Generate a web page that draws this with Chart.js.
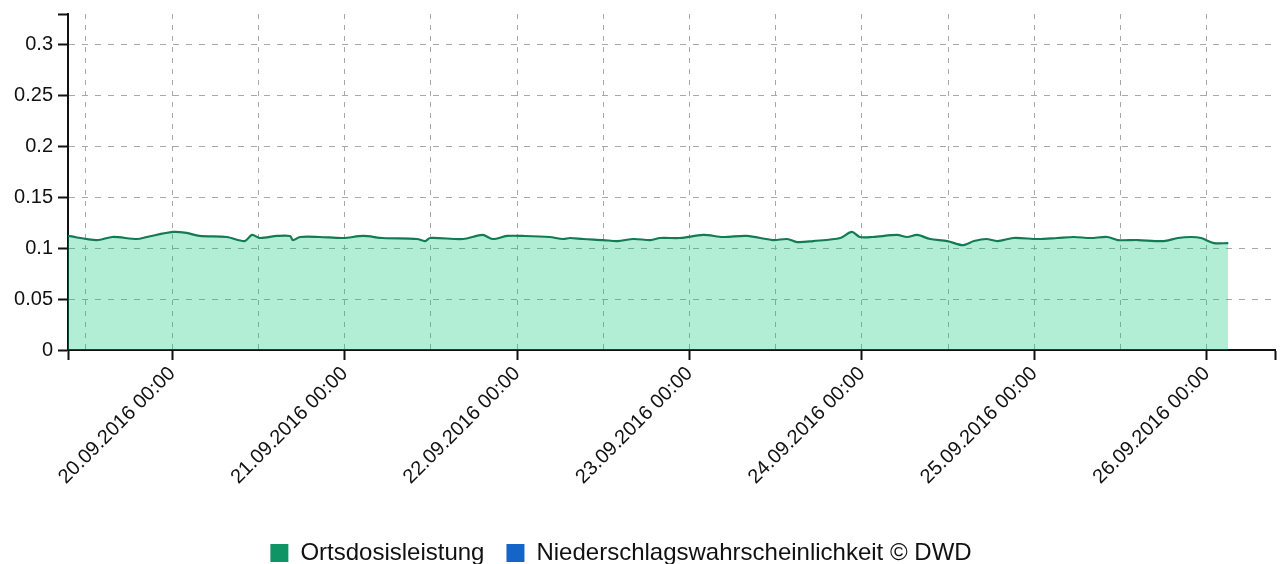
<!DOCTYPE html>
<html>
<head>
<meta charset="utf-8">
<script src="https://cdn.jsdelivr.net/npm/chart.js@4/dist/chart.umd.min.js"></script>
<style>
  html, body { margin: 0; padding: 0; background: #fff; }
  #wrap { width: 1284px; height: 564px; }
</style>
</head>
<body>
<div id="wrap"><canvas id="mychart"></canvas></div>
<script>
// hours counted from 19.09.2016 00:00
const hours = [9.5, 13.5, 15.7, 19.1, 20.5, 24.1, 26, 27.8, 31.6, 34.1, 35.1, 36.2, 38.6, 40.4, 40.8, 41.8, 44.5, 47.8,
  50.6, 53.3, 58.1, 59.2, 59.9, 64.5, 67.2, 68.6, 70.6, 72.8, 76.5, 78.4, 79.4, 81.2, 84, 86, 88.2, 90.6, 91.9, 94.7,
  97.9, 100.7, 104, 107.6, 109.6, 111, 113.2, 117, 118.6, 119.7, 121.5, 124.9, 126.3, 127.7, 129.5, 131.9, 134, 135.6,
  137.3, 138.9, 141.1, 144.5, 147.2, 149.5, 151.8, 154.2, 155.6, 158.4, 162, 164, 165.8, 167.2, 169, 171];
const dose = [0.112, 0.108, 0.111, 0.109, 0.111, 0.116, 0.115, 0.112, 0.111, 0.107, 0.113, 0.110, 0.112, 0.112, 0.108, 0.111, 0.111, 0.110,
  0.112, 0.110, 0.109, 0.107, 0.110, 0.109, 0.113, 0.109, 0.112, 0.112, 0.111, 0.109, 0.110, 0.109, 0.108, 0.107, 0.109, 0.108, 0.110, 0.110,
  0.113, 0.111, 0.112, 0.108, 0.109, 0.106, 0.107, 0.110, 0.116, 0.111, 0.111, 0.113, 0.111, 0.113, 0.109, 0.107, 0.103, 0.107,
  0.109, 0.107, 0.110, 0.109, 0.110, 0.111, 0.110, 0.111, 0.108, 0.108, 0.107, 0.110, 0.111, 0.110, 0.105, 0.105];
const rain = [];

const seriesNames = ['Ortsdosisleistung', 'Niederschlagswahrscheinlichkeit \u00a9 DWD'];
const legendColors = ['#0f9466', '#1565c8'];

const xMin = 9.5, xMax = 177.5;
const gridHours = [12, 24, 36, 48, 60, 72, 84, 96, 108, 120, 132, 144, 156, 168];
const dayHours = [24, 48, 72, 96, 120, 144, 168];
const dayLabels = ['20.09.2016 00:00', '21.09.2016 00:00', '22.09.2016 00:00', '23.09.2016 00:00',
  '24.09.2016 00:00', '25.09.2016 00:00', '26.09.2016 00:00'];
const yTicks = [0, 0.05, 0.1, 0.15, 0.2, 0.25, 0.3];
const yMax = 0.33;

const font = '"Liberation Sans", Arial, sans-serif';
const gridGrey = '#a8a8a8';

const ctx = document.getElementById('mychart');

var chart = new Chart(ctx, {
    type: 'line',
    data: {
        datasets: [{
            label: seriesNames[0],
            data: hours.map((h, i) => ({x: h, y: dose[i]})),
            borderColor: '#137a52',
            borderWidth: 2.2,
            backgroundColor: 'rgba(0, 200, 120, 0.3)',
            fill: 'origin',
            pointRadius: 0,
            tension: 0.3,
        }, {
            label: seriesNames[1],
            data: rain,
            borderColor: legendColors[1],
            backgroundColor: legendColors[1],
            pointRadius: 0,
        }],
    },
    options: {
        responsive: true,
        maintainAspectRatio: false,
        animation: false,
        layout: {
            padding: {left: -33, right: 9, top: 14, bottom: -11}
        },
        plugins: {
            tooltip: {enabled: false},
            legend: {
                position: 'bottom',
                labels: {
                    boxWidth: 18,
                    boxHeight: 18,
                    padding: 22,
                    color: '#111',
                    font: {family: font, size: 24},
                    generateLabels: (c) => Chart.defaults.plugins.legend.labels.generateLabels(c).map((l, i) => ({
                        ...l, fillStyle: legendColors[i], strokeStyle: legendColors[i], lineWidth: 0
                    })),
                }
            }
        },
        scales: {
            x: {
                type: 'linear',
                min: xMin,
                max: xMax,
                afterBuildTicks: (axis) => {
                    axis.ticks = [xMin, ...gridHours, xMax].map(v => ({value: v}));
                },
                afterFit: (axis) => {
                    axis.height = 169;
                    axis.paddingLeft = 0;
                    axis.paddingRight = 0;
                },
                grid: {
                    color: (c) => (c.tick && gridHours.includes(c.tick.value)) ? gridGrey : 'rgba(0,0,0,0)',
                    tickColor: (c) => (c.tick && (dayHours.includes(c.tick.value) || c.tick.value === xMin || c.tick.value === xMax)) ? '#111' : 'rgba(0,0,0,0)',
                    tickLength: 10,
                    tickWidth: 2,
                    lineWidth: 1,
                },
                border: {display: true, color: '#111', width: 2, dash: [5, 6]},
                ticks: {
                    autoSkip: false,
                    minRotation: 45,
                    maxRotation: 45,
                    padding: 2,
                    color: '#111',
                    font: {family: font, size: 20},
                    callback: (v) => {
                        const k = dayHours.indexOf(v);
                        return k >= 0 ? dayLabels[k] : '';
                    }
                }
            },
            y: {
                min: 0,
                max: yMax,
                afterBuildTicks: (axis) => {
                    axis.ticks = [...yTicks, yMax].map(v => ({value: v}));
                },
                afterFit: (axis) => {
                    axis.width = 101;
                    axis.paddingTop = 0;
                    axis.paddingBottom = 0;
                },
                grid: {
                    color: (c) => (c.tick && c.tick.value !== yMax && c.tick.value !== 0) ? gridGrey : 'rgba(0,0,0,0)',
                    tickColor: '#111',
                    tickLength: 10,
                    tickWidth: 2,
                    lineWidth: 1,
                },
                border: {display: true, color: '#111', width: 2, dash: [6, 7]},
                ticks: {
                    padding: 5,
                    color: '#111',
                    font: {family: font, size: 20},
                    callback: (v) => v === yMax ? '' : String(v)
                }
            }
        }
    }
});
</script>
</body>
</html>
